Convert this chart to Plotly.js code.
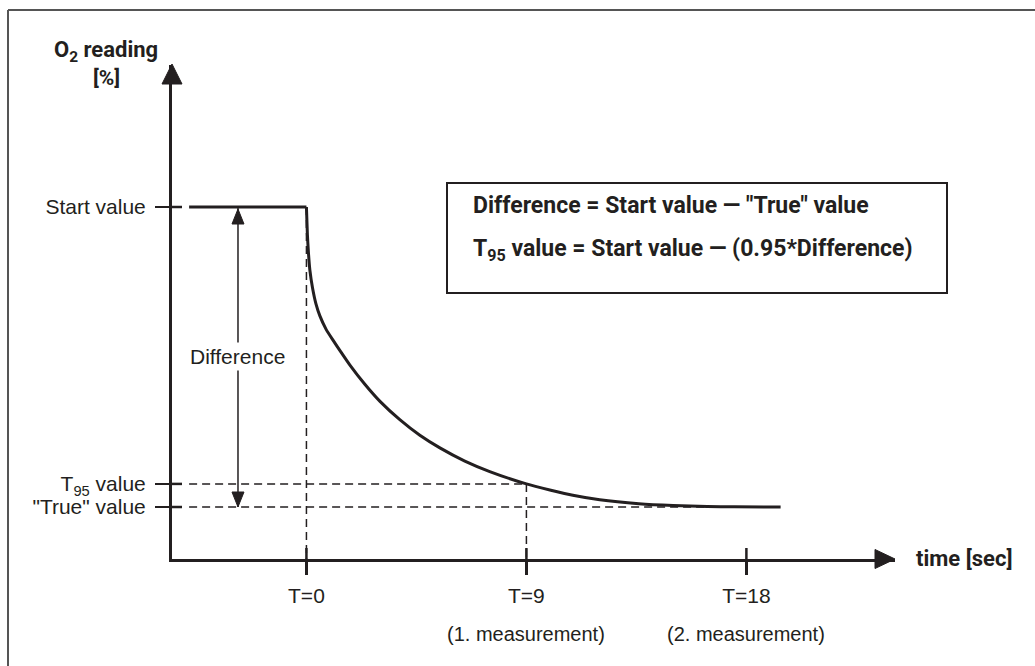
<!DOCTYPE html>
<html>
<head>
<meta charset="utf-8">
<script src="https://cdn.plot.ly/plotly-3.0.1.min.js"></script>
<style>html,body{margin:0;padding:0;background:#fff;}#chart{width:1035px;height:666px;}</style>
</head>
<body>
<div id="chart"></div>
<script>
// ---- data ----
var startValue = 100;
var trueValue = 0;
var t95Value = 7.7;
var flatTime = [-4.8, 0];
var flatValue = [100, 100];
var curveTime = [0, 0.04, 0.08, 0.14, 0.25, 0.39, 0.55, 0.8, 1.08, 1.4, 1.78, 2.39, 3.01, 3.82, 4.64, 5.46, 6.48, 7.5, 9, 10, 10.9, 12, 13.6, 15, 16.4, 17.5, 19.4];
var curveValue = [100, 90.7, 85, 79, 73, 67.7, 63.7, 59.3, 55.7, 51.8, 47.3, 40.9, 35.2, 29.1, 23.9, 19.7, 15.3, 11.8, 7.7, 5.6, 3.9, 2.4, 1.1, 0.5, 0.18, 0.05, 0];
var xTickVals = [0, 9, 18];
var xTickText = ['T=0', 'T=9', 'T=18'];
var xSubText = ['', '(1. measurement)', '(2. measurement)'];
var yTickVals = [trueValue, t95Value, startValue];
var yTickText = ['"True" value', 'T<sub>95</sub> value', 'Start value'];
var diffTime = -2.8;
var trueDashEnd = 16.4;
var formulaLines = ['Difference = Start value \u2014 "True" value', 'T<sub>95</sub> value = Start value \u2014 (0.95*Difference)'];

// ---- layout geometry ----
var W = 1035, H = 666, L = 172, T = 65, R = 140, B = 107;
var PW = W - L - R, PH = H - T - B;
function px(x){ return (x - L) / PW; }
function py(y){ return (H - B - y) / PH; }
var ink = '#231f20';
var regFont = 'Liberation Sans, Arial, sans-serif';
var narrowFont = 'Liberation Sans Narrow, Liberation Sans, Arial, sans-serif';
var boldFont = 'Roboto, Liberation Sans, Arial, sans-serif';

var xr = [-5.5, 24.08];
var yr = [-17.33, 147.33];

var traces = [
  {x: flatTime, y: flatValue, mode: 'lines', line: {color: ink, width: 3}, hoverinfo: 'skip'},
  {x: curveTime, y: curveValue, mode: 'lines', line: {color: ink, width: 3, shape: 'spline', smoothing: 0.6}, hoverinfo: 'skip'},
  {x: [flatTime[0], xTickVals[1]], y: [t95Value, t95Value], mode: 'lines', line: {color: ink, width: 1.5, dash: '8px,5px'}, hoverinfo: 'skip'},
  {x: [flatTime[0], trueDashEnd], y: [trueValue, trueValue], mode: 'lines', line: {color: ink, width: 1.5, dash: '8px,5px'}, hoverinfo: 'skip'},
  {x: [xTickVals[0], xTickVals[0]], y: [startValue, yr[0]], mode: 'lines', line: {color: ink, width: 1.5, dash: '8px,5px'}, hoverinfo: 'skip'},
  {x: [xTickVals[1], xTickVals[1]], y: [t95Value, yr[0]], mode: 'lines', line: {color: ink, width: 1.5, dash: '8px,5px'}, hoverinfo: 'skip'}
];

var shapes = [];
// outer frame (top and left)
shapes.push({type: 'line', xref: 'paper', yref: 'paper', x0: px(8), x1: px(1040), y0: py(10), y1: py(10), line: {color: '#555', width: 2}});
shapes.push({type: 'line', xref: 'paper', yref: 'paper', x0: px(8), x1: px(8), y0: py(10), y1: py(670), line: {color: '#555', width: 2}});
// axis arrowheads
shapes.push({type: 'path', xref: 'paper', yref: 'paper', xsizemode: 'pixel', ysizemode: 'pixel', xanchor: 0, yanchor: 1, path: 'M-10,-19 L0,1 L10,-19 Z', fillcolor: ink, line: {color: ink, width: 1}});
shapes.push({type: 'path', xref: 'paper', yref: 'paper', xsizemode: 'pixel', ysizemode: 'pixel', xanchor: 1, yanchor: 0, path: 'M-20,9.5 L0,0 L-20,-9.5 Z', fillcolor: ink, line: {color: ink, width: 1}});
// inner parts of ticks
xTickVals.forEach(function(v){
  shapes.push({type: 'line', xref: 'x', yref: 'paper', ysizemode: 'pixel', yanchor: 0, x0: v, x1: v, y0: 0, y1: 11, line: {color: ink, width: 2.5}});
});
yTickVals.forEach(function(v){
  shapes.push({type: 'line', xref: 'paper', yref: 'y', xsizemode: 'pixel', xanchor: 0, x0: 0, x1: 10, y0: v, y1: v, line: {color: ink, width: 2.5}});
});
// difference double arrow
shapes.push({type: 'line', xref: 'x', yref: 'y', x0: diffTime, x1: diffTime, y0: startValue, y1: trueValue, line: {color: ink, width: 1.5}});
shapes.push({type: 'path', xref: 'x', yref: 'y', xsizemode: 'pixel', ysizemode: 'pixel', xanchor: diffTime, yanchor: startValue, path: 'M-6,-17 L0,-2 L6,-17 Z', fillcolor: ink, line: {color: ink, width: 1}});
shapes.push({type: 'path', xref: 'x', yref: 'y', xsizemode: 'pixel', ysizemode: 'pixel', xanchor: diffTime, yanchor: trueValue, path: 'M-6,15 L0,0 L6,15 Z', fillcolor: ink, line: {color: ink, width: 1}});
// formula box
shapes.push({type: 'rect', xref: 'paper', yref: 'paper', x0: px(447), x1: px(947), y0: py(183), y1: py(293), line: {color: ink, width: 2}, fillcolor: 'rgba(0,0,0,0)'});

var annotations = [];
annotations.push({xref: 'paper', yref: 'paper', x: px(106), y: py(51), text: 'O<sub>2</sub> reading', showarrow: false, xanchor: 'center', yanchor: 'middle', font: {family: boldFont, size: 22, color: ink, weight: 700}});
annotations.push({xref: 'paper', yref: 'paper', x: px(106), y: py(78), text: '[%]', showarrow: false, xanchor: 'center', yanchor: 'middle', font: {family: boldFont, size: 21, color: ink, weight: 700}});
annotations.push({xref: 'paper', yref: 'paper', x: px(914), y: py(558), text: 'time [sec]', showarrow: false, xanchor: 'left', yanchor: 'middle', font: {family: boldFont, size: 22, color: ink, weight: 700}});
xTickVals.forEach(function(v, i){
  if (xSubText[i]) annotations.push({xref: 'x', yref: 'paper', x: v, y: py(634), text: xSubText[i], showarrow: false, xanchor: 'center', yanchor: 'middle', font: {family: narrowFont, size: 20, color: ink}});
});
annotations.push({xref: 'x', yref: 'y', x: diffTime, y: 50.3, text: 'Difference', showarrow: false, xanchor: 'center', yanchor: 'middle', bgcolor: '#fff', borderpad: 2, font: {family: regFont, size: 21, color: ink}});
annotations.push({xref: 'paper', yref: 'paper', x: px(471), y: py(205), text: formulaLines[0], showarrow: false, xanchor: 'left', yanchor: 'middle', font: {family: boldFont, size: 23, color: ink, weight: 700}});
annotations.push({xref: 'paper', yref: 'paper', x: px(471), y: py(250), text: formulaLines[1], showarrow: false, xanchor: 'left', yanchor: 'middle', font: {family: boldFont, size: 23, color: ink, weight: 700}});

var layout = {
  width: W, height: H,
  margin: {l: L, r: R, t: T, b: B, pad: 0},
  paper_bgcolor: '#fff', plot_bgcolor: '#fff',
  showlegend: false,
  xaxis: {range: xr, showgrid: false, zeroline: false, showline: true, linecolor: ink, linewidth: 3,
          ticks: 'outside', ticklen: 13, tickwidth: 2.5, tickcolor: ink,
          tickvals: xTickVals, ticktext: xTickText, ticklabelstandoff: 3,
          tickfont: {family: narrowFont, size: 21, color: ink}, fixedrange: true},
  yaxis: {range: yr, showgrid: false, zeroline: false, showline: true, linecolor: ink, linewidth: 3,
          ticks: 'outside', ticklen: 14, tickwidth: 2.5, tickcolor: ink,
          tickvals: yTickVals, ticktext: yTickText, ticklabelstandoff: 5,
          tickfont: {family: regFont, size: 21, color: ink}, fixedrange: true},
  shapes: shapes,
  annotations: annotations
};

Plotly.newPlot('chart', traces, layout, {displayModeBar: false, staticPlot: true});
</script>
</body>
</html>
